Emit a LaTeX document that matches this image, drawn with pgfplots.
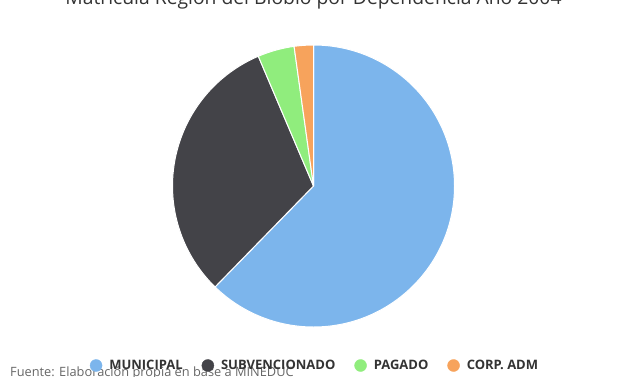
\documentclass[border=0pt]{standalone}
\usepackage{pgfplots}
\pgfplotsset{compat=1.18}
\usepackage{pgfplotstable}
\usepackage{fontspec}
\setmainfont{Open Sans}
\definecolor{cmun}{HTML}{7CB5EC}
\definecolor{csub}{HTML}{434348}
\definecolor{cpag}{HTML}{90ED7D}
\definecolor{ccor}{HTML}{F7A35C}
\definecolor{ctxt}{HTML}{333333}
\definecolor{csrc}{HTML}{666666}

\pgfplotstableread{
name value color
MUNICIPAL 62.3 cmun
SUBVENCIONADO 31.3 csub
PAGADO 4.2 cpag
CORP 2.2 ccor
}\piedata

\begin{document}
\begin{tikzpicture}
\clip (0,0) rectangle (627pt,376pt);
\begin{axis}[
  x=1pt, y=1pt,
  xmin=0, xmax=627, ymin=0, ymax=376,
  hide axis,
  clip=false,
  legend columns=4,
  legend style={at={(axis cs:314.5,10.5)}, anchor=center, draw=none, fill=none,
    font=\fontsize{13}{15}\selectfont\bfseries, text=ctxt,
    nodes={inner sep=1pt},
    /tikz/every odd column/.append style={column sep=6pt},
    /tikz/every even column/.append style={column sep=18pt}},
]
\pgfplotstablegetrowsof{\piedata}
\pgfmathtruncatemacro{\nrows}{\pgfplotsretval-1}
\def\cum{0}
\pgfplotsforeachungrouped \i in {0,...,\nrows}{%
  \pgfplotstablegetelem{\i}{value}\of\piedata \let\v=\pgfplotsretval
  \pgfplotstablegetelem{\i}{color}\of\piedata \let\c=\pgfplotsretval
  \pgfmathsetmacro{\aa}{90-3.6*\cum}%
  \pgfmathsetmacro{\ab}{90-3.6*(\cum+\v)}%
  \edef\temp{\noexpand\filldraw[fill=\c, draw=white, line width=1pt, line join=round]
    (axis cs:313.5,190) -- ++(\aa:141pt) arc[start angle=\aa, end angle=\ab, radius=141pt] -- cycle;}%
  \temp
  \pgfmathsetmacro{\cum}{\cum+\v}%
  \xdef\cum{\cum}%
}
\addlegendimage{legend image code/.code={\fill[cmun] (6pt,0pt) circle (6pt);}}
\addlegendentry{MUNICIPAL}
\addlegendimage{legend image code/.code={\fill[csub] (6pt,0pt) circle (6pt);}}
\addlegendentry{SUBVENCIONADO}
\addlegendimage{legend image code/.code={\fill[cpag] (6pt,0pt) circle (6pt);}}
\addlegendentry{PAGADO}
\addlegendimage{legend image code/.code={\fill[ccor] (6pt,0pt) circle (6pt);}}
\addlegendentry{CORP. ADM}
\node[anchor=base, text=ctxt, font=\fontsize{19.3}{22}\selectfont, inner sep=0pt] at (axis cs:313.5,371.5) {Matrícula Región del Biobío por Dependencia Año 2004};
\node[anchor=base west, text=csrc, font=\fontsize{12.8}{15}\selectfont, inner sep=0pt] at (axis cs:10,-0.5) {Fuente: Elaboración propia en base a MINEDUC};
\end{axis}
\end{tikzpicture}
\end{document}
